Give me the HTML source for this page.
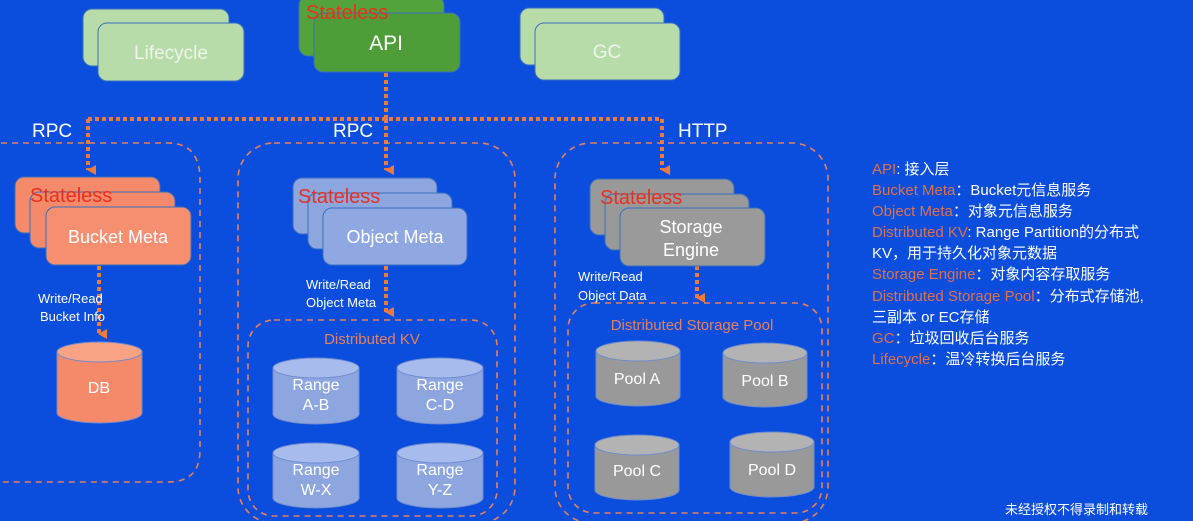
<!DOCTYPE html>
<html><head><meta charset="utf-8"><style>
html,body{margin:0;padding:0;background:#0b4ddc;}
svg{display:block;font-family:"Liberation Sans","Noto Sans CJK SC",sans-serif;}
</style></head><body>
<svg width="1193" height="521" viewBox="0 0 1193 521" xmlns="http://www.w3.org/2000/svg">
<rect width="1193" height="521" fill="#0b4ddc"/>
<defs>
<marker id="ah" markerWidth="10" markerHeight="10" refX="5" refY="8" orient="auto" markerUnits="userSpaceOnUse"><path d="M0,0 L10,0 L5,9 z" fill="#f07a3a"/></marker>
</defs>
<g stroke="#3a6fbf" stroke-width="1">
<rect x="83" y="9" width="146" height="57" rx="9" fill="#b7dcaa"/>
<rect x="98" y="23" width="146" height="58" rx="9" fill="#b7dcaa"/>
<rect x="520" y="8" width="144" height="57" rx="9" fill="#b7dcaa"/>
<rect x="535" y="23" width="145" height="57" rx="9" fill="#b7dcaa"/>
<rect x="299" y="-4" width="145" height="60" rx="9" fill="#53a33d"/>
<rect x="314" y="13" width="146" height="59" rx="9" fill="#4e9d38"/>
</g>
<text x="171" y="59" fill="#eef5ea" font-size="19" text-anchor="middle">Lifecycle</text>
<text x="607" y="58" fill="#eef5ea" font-size="19" text-anchor="middle">GC</text>
<text x="386" y="50" fill="#fff" font-size="21" text-anchor="middle">API</text>
<text x="306" y="19" fill="#e8301e" font-size="20">Stateless</text>

<g stroke="#f07a3a" stroke-width="4" stroke-dasharray="4,3" fill="none">
<path d="M386 73 V119"/>
<path d="M88 119 H662"/>
<path d="M88 119 V170" marker-end="url(#ah)"/>
<path d="M386 119 V170" marker-end="url(#ah)"/>
<path d="M662 119 V170" marker-end="url(#ah)"/>
<path d="M99 266 V334" marker-end="url(#ah)"/>
<path d="M386 266 V312" marker-end="url(#ah)"/>
<path d="M697 266 V298" marker-end="url(#ah)"/>
</g>
<g stroke="#e8805a" stroke-width="1.6" stroke-dasharray="6,5" fill="none">
<path d="M-10 143 H168 Q200 143 200 180 V450 Q200 482 168 482 H-10"/>
<rect x="238" y="143" width="277" height="380" rx="36"/>
<rect x="555" y="143" width="273" height="380" rx="36"/>
<rect x="248" y="320" width="249" height="196" rx="26"/>
<rect x="568" y="303" width="254" height="210" rx="26"/>
</g>
<g fill="#fff" font-size="19">
<text x="32" y="137">RPC</text>
<text x="333" y="137">RPC</text>
<text x="678" y="137">HTTP</text>
</g>

<g stroke="#3a6fbf" stroke-width="1">
<rect x="15" y="177" width="145" height="56" rx="9" fill="#f48a6a"/>
<rect x="30" y="192" width="145" height="56" rx="9" fill="#f48a6a"/>
<rect x="46" y="207" width="145" height="58" rx="9" fill="#f68f70"/>
<rect x="293" y="178" width="144" height="56" rx="9" fill="#8da6e0"/>
<rect x="308" y="193" width="144" height="56" rx="9" fill="#8da6e0"/>
<rect x="323" y="208" width="144" height="57" rx="9" fill="#90a8e1"/>
<rect x="590" y="179" width="144" height="56" rx="9" fill="#999"/>
<rect x="605" y="194" width="144" height="56" rx="9" fill="#999"/>
<rect x="620" y="208" width="145" height="58" rx="9" fill="#9a9a9a"/>
</g>
<g fill="#e8301e" font-size="20">
<text x="30" y="202">Stateless</text>
<text x="298" y="203">Stateless</text>
<text x="600" y="204">Stateless</text>
</g>
<g fill="#fff" font-size="18" text-anchor="middle">
<text x="118" y="243">Bucket Meta</text>
<text x="395" y="243">Object Meta</text>
<text x="691" y="233">Storage</text>
<text x="691" y="256">Engine</text>
</g>
<g fill="#fff" font-size="13">
<text x="38" y="303">Write/Read</text>
<text x="40" y="321">Bucket Info</text>
<text x="306" y="289">Write/Read</text>
<text x="306" y="307">Object Meta</text>
<text x="578" y="281">Write/Read</text>
<text x="578" y="300">Object Data</text>
</g>
<g fill="#e8805a" font-size="15" text-anchor="middle">
<text x="372" y="344">Distributed KV</text>
<text x="692" y="330">Distributed Storage Pool</text>
</g>

<g stroke="#6d8bd0" stroke-width="1">
<!-- DB -->
<path d="M57 352 V413 A42.5 10 0 0 0 142 413 V352" fill="#f58a6b"/>
<ellipse cx="99.5" cy="352" rx="42.5" ry="10" fill="#f9a284"/>
<path d="M273 368 V414 A43 10 0 0 0 359 414 V368" fill="#8ea6e0"/>
<ellipse cx="316" cy="368" rx="43" ry="10" fill="#a7bbec"/>
<path d="M397 368 V414 A43 10 0 0 0 483 414 V368" fill="#8ea6e0"/>
<ellipse cx="440" cy="368" rx="43" ry="10" fill="#a7bbec"/>
<path d="M273 453 V498 A43 10 0 0 0 359 498 V453" fill="#8ea6e0"/>
<ellipse cx="316" cy="453" rx="43" ry="10" fill="#a7bbec"/>
<path d="M397 453 V498 A43 10 0 0 0 483 498 V453" fill="#8ea6e0"/>
<ellipse cx="440" cy="453" rx="43" ry="10" fill="#a7bbec"/>
<path d="M596 351 V396 A42 10 0 0 0 680 396 V351" fill="#999"/>
<ellipse cx="638" cy="351" rx="42" ry="10" fill="#b3b3b3"/>
<path d="M723 353 V397 A42 10 0 0 0 807 397 V353" fill="#999"/>
<ellipse cx="765" cy="353" rx="42" ry="10" fill="#b3b3b3"/>
<path d="M595 445 V490 A42 10 0 0 0 679 490 V445" fill="#999"/>
<ellipse cx="637" cy="445" rx="42" ry="10" fill="#b3b3b3"/>
<path d="M730 442 V487 A42 10 0 0 0 814 487 V442" fill="#999"/>
<ellipse cx="772" cy="442" rx="42" ry="10" fill="#b3b3b3"/>
</g>
<g fill="#fff" font-size="16" text-anchor="middle">
<text x="99" y="393">DB</text>
<text x="316" y="390">Range</text><text x="316" y="410">A-B</text>
<text x="440" y="390">Range</text><text x="440" y="410">C-D</text>
<text x="316" y="475">Range</text><text x="316" y="495">W-X</text>
<text x="440" y="475">Range</text><text x="440" y="495">Y-Z</text>
<text x="637" y="384">Pool A</text>
<text x="765" y="386">Pool B</text>
<text x="637" y="476">Pool C</text>
<text x="772" y="475">Pool D</text>
</g>

<g font-size="15" fill="#fff">
<text x="872" y="174"><tspan fill="#e0704a">API</tspan>: 接入层</text>
<text x="872" y="195"><tspan fill="#e0704a">Bucket Meta</tspan>：Bucket元信息服务</text>
<text x="872" y="216"><tspan fill="#e0704a">Object Meta</tspan>：对象元信息服务</text>
<text x="872" y="237"><tspan fill="#e0704a">Distributed KV</tspan>: Range Partition的分布式</text>
<text x="872" y="258">KV，用于持久化对象元数据</text>
<text x="872" y="279"><tspan fill="#e0704a">Storage Engine</tspan>：对象内容存取服务</text>
<text x="872" y="301"><tspan fill="#e0704a">Distributed Storage Pool</tspan>：分布式存储池,</text>
<text x="872" y="322">三副本 or EC存储</text>
<text x="872" y="343"><tspan fill="#e0704a">GC</tspan>：垃圾回收后台服务</text>
<text x="872" y="364"><tspan fill="#e0704a">Lifecycle</tspan>：温冷转换后台服务</text>
</g>
<text x="1005" y="514" fill="#fff" font-size="13">未经授权不得录制和转载</text>
</svg>
</body></html>
